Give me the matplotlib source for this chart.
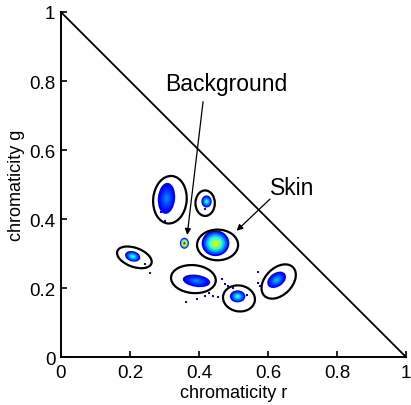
import numpy as np
import matplotlib
matplotlib.use('Agg')
from matplotlib import pyplot as plt
from matplotlib.patches import Ellipse

plt.rcParams['font.family'] = ['Liberation Sans', 'DejaVu Sans']

# skin/background pixel clusters in rg chromaticity
blob_x = [0.306, 0.422, 0.358, 0.448, 0.208, 0.393, 0.512, 0.625]
blob_y = [0.460, 0.451, 0.330, 0.330, 0.292, 0.221, 0.176, 0.224]
blob_w = [0.050, 0.030, 0.026, 0.080, 0.045, 0.080, 0.045, 0.060]
blob_h = [0.090, 0.035, 0.032, 0.075, 0.030, 0.035, 0.035, 0.040]
blob_ang = [-5, 0, 0, 0, -15, -8, 0, 35]
blob_peak = [0.25, 0.40, 0.90, 0.62, 0.40, 0.25, 0.40, 0.30]

# ellipses drawn around the clusters
ell_x = [0.316, 0.418, 0.454, 0.213, 0.384, 0.516, 0.631]
ell_y = [0.456, 0.446, 0.325, 0.289, 0.226, 0.170, 0.219]
ell_w = [0.097, 0.056, 0.119, 0.105, 0.130, 0.093, 0.117]
ell_h = [0.138, 0.074, 0.089, 0.055, 0.081, 0.075, 0.078]
ell_ang = [-5, 0, 0, -20, -5, -10, 45]

# stray pixels
stray_x = [0.364, 0.393, 0.417, 0.441, 0.456, 0.475, 0.485, 0.466, 0.258, 0.243,
           0.572, 0.572, 0.301, 0.289, 0.417, 0.577, 0.540, 0.430, 0.500]
stray_y = [0.159, 0.168, 0.176, 0.178, 0.173, 0.212, 0.207, 0.226, 0.245, 0.270,
           0.247, 0.214, 0.395, 0.419, 0.429, 0.207, 0.180, 0.185, 0.200]

fig = plt.figure(figsize=(4.11, 4.06), dpi=100)
ax = fig.add_axes([0.148, 0.118, 0.840, 0.850])

jet = plt.get_cmap('jet')
nlev = 6
for i in range(len(blob_x)):
    for k in range(nlev):
        s = 1.0 - 0.8 * k / (nlev - 1)
        lev = 0.11 + (blob_peak[i] - 0.11) * k / (nlev - 1)
        ax.add_patch(Ellipse((blob_x[i], blob_y[i]), blob_w[i] * s, blob_h[i] * s,
                             angle=blob_ang[i], facecolor=jet(lev), edgecolor='none', zorder=2))

ax.scatter(stray_x, stray_y, s=1.5, color=jet(0.11), marker='s', linewidths=0, zorder=2)

for i in range(len(ell_x)):
    ax.add_patch(Ellipse((ell_x[i], ell_y[i]), ell_w[i], ell_h[i], angle=ell_ang[i],
                         facecolor='none', edgecolor='black', linewidth=1.6, zorder=3))

ax.plot([0, 1], [1, 0], color='black', linewidth=1.3, zorder=3, clip_on=False)

arrow = dict(arrowstyle='-|>', color='black', lw=0.9, mutation_scale=9, shrinkA=0, shrinkB=0)
ax.text(0.478, 0.775, 'Background', fontsize=16.5, ha='center', va='baseline')
ax.annotate('', xy=(0.366, 0.354), xytext=(0.412, 0.740), arrowprops=arrow)
ax.text(0.606, 0.472, 'Skin', fontsize=16.5, ha='left', va='baseline')
ax.annotate('', xy=(0.509, 0.366), xytext=(0.606, 0.458), arrowprops=arrow)

ax.set_xlim(0, 1)
ax.set_ylim(0, 1)
ticks = [0, 0.2, 0.4, 0.6, 0.8, 1]
labels = ['0', '0.2', '0.4', '0.6', '0.8', '1']
ax.set_xticks(ticks)
ax.set_xticklabels(labels)
ax.set_yticks(ticks)
ax.set_yticklabels(labels)
ax.tick_params(direction='in', length=4, width=1.2, labelsize=13.5)
ax.tick_params(axis='x', pad=5)
ax.tick_params(axis='y', pad=4)
ax.spines['top'].set_visible(False)
ax.spines['right'].set_visible(False)
ax.spines['left'].set_linewidth(1.4)
ax.spines['bottom'].set_linewidth(1.4)
ax.set_xlabel('chromaticity r', fontsize=13, labelpad=2)
ax.set_ylabel('chromaticity g', fontsize=13, labelpad=3)

fig.savefig('out.png', dpi=100)
